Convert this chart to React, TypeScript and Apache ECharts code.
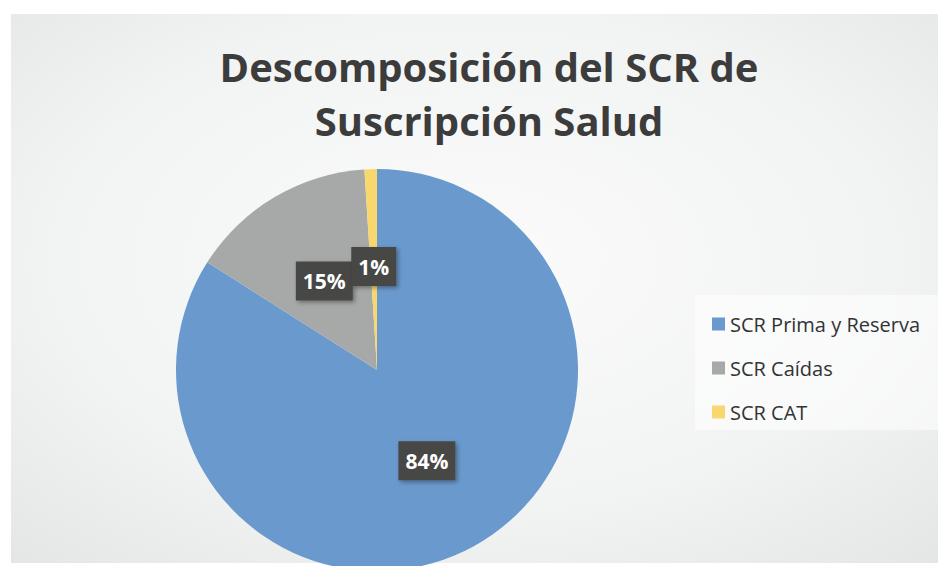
import React, { useEffect, useRef } from "react";
import * as echarts from "echarts";

const titleLines = ["Descomposición del SCR de", "Suscripción Salud"];
const categories = ["SCR Prima y Reserva", "SCR Caídas", "SCR CAT"];
const values = [84, 15, 1];
const colors = ["#6a99cd", "#a7a8a8", "#f8d86e"];

export default function App() {
  const ref = useRef<HTMLDivElement>(null);
  useEffect(() => {
    if (!ref.current) return;
    const chart = echarts.init(ref.current, null, { renderer: "svg" });
    chart.setOption({
      animation: false,
      backgroundColor: "#ffffff",
      graphic: [
        {
          type: "rect",
          z: -10,
          silent: true,
          shape: { x: 11, y: 14, width: 927, height: 549 },
          style: {
            fill: {
              type: "radial",
              x: 0.5,
              y: 0.45,
              r: 0.75,
              colorStops: [
                { offset: 0, color: "#fbfbfb" },
                { offset: 0.6, color: "#f2f3f3" },
                { offset: 1, color: "#e4e6e6" },
              ],
            },
          },
        },
        {
          type: "rect",
          z: -9,
          silent: true,
          shape: { x: 695, y: 295, width: 243, height: 135 },
          style: { fill: "rgba(255,255,255,0.55)" },
        },
      ],
      title: {
        text: titleLines.join("\n"),
        left: 484,
        top: 34,
        textAlign: "center",
        textStyle: {
          fontFamily: "Open Sans",
          fontWeight: "bold",
          fontSize: 40,
          lineHeight: 54,
          color: "#3c3c3c",
        },
      },
      legend: {
        orient: "vertical",
        left: 707,
        top: 308,
        itemWidth: 13,
        itemHeight: 13,
        itemGap: 22,
        icon: "rect",
        data: categories,
        textStyle: {
          fontFamily: "Open Sans",
          fontSize: 20,
          lineHeight: 22,
          color: "#333333",
        },
      },
      series: [
        {
          type: "pie",
          center: [377, 370],
          radius: 201,
          startAngle: 90,
          clockwise: true,
          avoidLabelOverlap: false,
          labelLayout: { hideOverlap: false },
          data: categories.map((name, i) => ({
            name,
            value: values[i],
            itemStyle: { color: colors[i] },
          })),
          label: {
            show: true,
            position: "inside",
            formatter: (p: any) => `${Math.round(p.percent)}%`,
            fontFamily: "Open Sans",
            fontWeight: "bold",
            fontSize: 21,
            color: "#ffffff",
            backgroundColor: "#474744",
            padding: [9, 7, 9, 7],
            shadowColor: "rgba(0,0,0,0.35)",
            shadowBlur: 4,
            shadowOffsetX: 2,
            shadowOffsetY: 2,
          },
          labelLine: { show: false },
          emphasis: { disabled: true },
        },
      ],
    });
    return () => chart.dispose();
  }, []);
  return (
    <div
      ref={ref}
      style={{ position: "absolute", left: 0, top: 0, width: 938, height: 566 }}
    />
  );
}
